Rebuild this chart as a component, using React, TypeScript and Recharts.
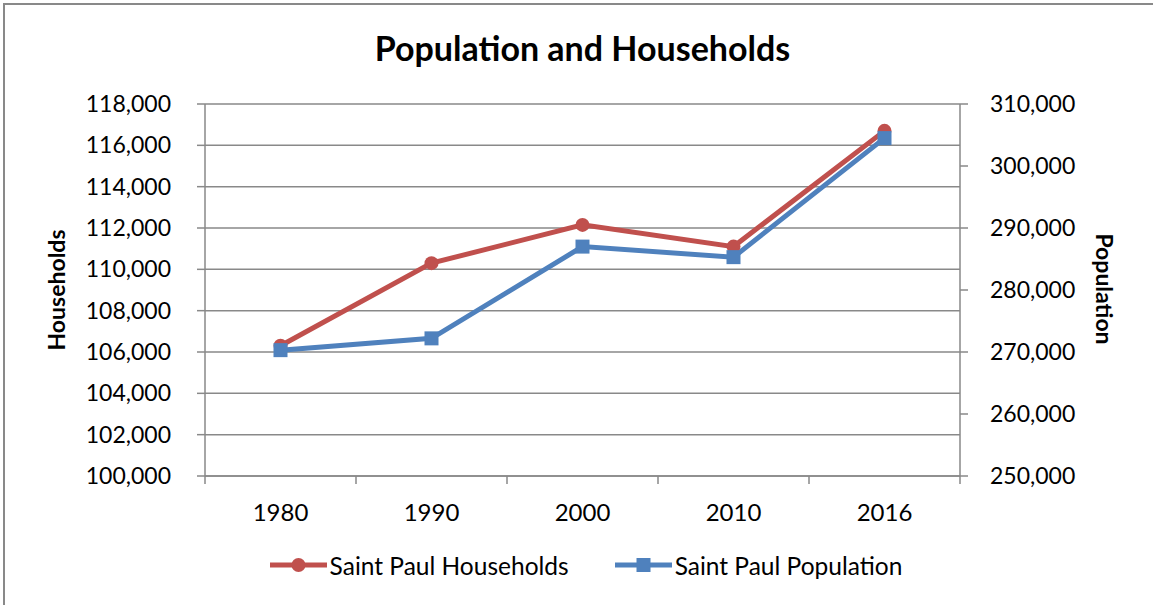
import React from 'react';
import { LineChart, Line, XAxis, YAxis, CartesianGrid, Legend } from 'recharts';

// Saint Paul census figures
const years = ['1980', '1990', '2000', '2010', '2016'];
const households = [106300, 110300, 112150, 111100, 116700];
const population = [270300, 272200, 287000, 285300, 304500];

const householdTicks = [100000, 102000, 104000, 106000, 108000, 110000, 112000, 114000, 116000, 118000];
const populationTicks = [250000, 260000, 270000, 280000, 290000, 300000, 310000];
// half-steps mark the category boundaries, whole steps carry the year labels
const xTicks = [-0.5, 0, 0.5, 1, 1.5, 2, 2.5, 3, 3.5, 4, 4.5];

const RED = '#C0504D';
const BLUE = '#4F81BD';
const GRID = '#898989';
const FONT = 'Lato, "Open Sans", sans-serif';

const data = years.map((year, i) => ({
  idx: i,
  year,
  households: households[i],
  population: population[i],
}));

const fmt = (v: number) => v.toLocaleString('en-US');

const XTick = (props: any) => {
  const { x, y, payload } = props;
  const v = payload.value as number;
  if (!Number.isInteger(v)) {
    return <line x1={x} x2={x} y1={y} y2={y + 8} stroke={GRID} strokeWidth={1.5} />;
  }
  return (
    <text x={x} y={y + 35} textAnchor="middle" dominantBaseline="central" fontSize={24} fontFamily={FONT} fill="#000">
      {years[v]}
    </text>
  );
};

const SquareDot = (props: any) => {
  const { cx, cy, index } = props;
  if (cx == null || cy == null) return null;
  return <rect key={`sq-${index}`} x={cx - 7} y={cy - 7} width={14} height={14} fill={BLUE} />;
};

const LegendIcon = ({ color, square }: { color: string; square: boolean }) => (
  <svg width={57} height={20} style={{ display: 'block' }}>
    <line x1={0} x2={57} y1={10} y2={10} stroke={color} strokeWidth={5} />
    {square ? <rect x={21.5} y={3} width={14} height={14} fill={color} /> : <circle cx={28.5} cy={10} r={7} fill={color} />}
  </svg>
);

const LegendContent = () => (
  <div
    style={{
      display: 'flex',
      justifyContent: 'center',
      alignItems: 'center',
      fontFamily: FONT,
      fontSize: 24.5,
      color: '#000',
      height: 28,
    }}
  >
    <LegendIcon color={RED} square={false} />
    <span style={{ marginLeft: 3 }}>Saint Paul Households</span>
    <span style={{ display: 'inline-block', width: 46 }} />
    <LegendIcon color={BLUE} square={true} />
    <span style={{ marginLeft: 3 }}>Saint Paul Population</span>
  </div>
);

const tickStyle = { fontSize: 23, fontFamily: FONT, fill: '#000' };

export default function App() {
  return (
    <div
      style={{
        position: 'absolute',
        left: 0,
        top: 0,
        width: 1153,
        height: 605,
        overflow: 'hidden',
        background: '#fff',
      }}
    >
      <div
        style={{
          position: 'absolute',
          left: 3,
          top: 3,
          width: 1200,
          height: 700,
          borderTop: `2px solid ${GRID}`,
          borderLeft: `2px solid ${GRID}`,
        }}
      />
      <LineChart width={1153} height={605} data={data} margin={{ top: 104, right: 0, bottom: 0, left: 0 }}>
        <CartesianGrid yAxisId="left" vertical={false} stroke={GRID} strokeWidth={1.5} />
        <XAxis
          type="number"
          dataKey="idx"
          domain={[-0.5, 4.5]}
          ticks={xTicks}
          interval={0}
          tick={<XTick />}
          tickLine={false}
          tickSize={0}
          tickMargin={0}
          axisLine={{ stroke: GRID, strokeWidth: 1.5 }}
          height={129}
        />
        <YAxis
          yAxisId="left"
          domain={[100000, 118000]}
          ticks={householdTicks}
          interval={0}
          tickFormatter={fmt}
          width={205}
          tickSize={8}
          tickMargin={26}
          tick={tickStyle}
          tickLine={{ stroke: GRID, strokeWidth: 1.5 }}
          axisLine={{ stroke: GRID, strokeWidth: 1.5 }}
        />
        <YAxis
          yAxisId="right"
          orientation="right"
          domain={[250000, 310000]}
          ticks={populationTicks}
          interval={0}
          tickFormatter={fmt}
          width={193}
          tickSize={8}
          tickMargin={22}
          tick={tickStyle}
          tickLine={{ stroke: GRID, strokeWidth: 1.5 }}
          axisLine={{ stroke: GRID, strokeWidth: 1.5 }}
        />
        <Line
          yAxisId="left"
          dataKey="households"
          name="Saint Paul Households"
          stroke={RED}
          strokeWidth={5}
          dot={{ r: 7, fill: RED, stroke: RED, strokeWidth: 0 }}
          activeDot={false}
          isAnimationActive={false}
        />
        <Line
          yAxisId="right"
          dataKey="population"
          name="Saint Paul Population"
          stroke={BLUE}
          strokeWidth={5}
          dot={<SquareDot />}
          activeDot={false}
          isAnimationActive={false}
        />
        <Legend
          verticalAlign="middle"
          layout="horizontal"
          content={<LegendContent />}
          wrapperStyle={{ left: 0, top: 551, width: 1172 }}
        />
      </LineChart>
      <div
        style={{
          position: 'absolute',
          left: 0,
          top: 28,
          width: 1165,
          height: 40,
          lineHeight: '40px',
          textAlign: 'center',
          fontFamily: FONT,
          fontWeight: 700,
          fontSize: 34,
          color: '#000',
        }}
      >
        Population and Households
      </div>
      <svg width={1153} height={605} style={{ position: 'absolute', left: 0, top: 0, pointerEvents: 'none' }}>
        <text
          x={56}
          y={290}
          transform="rotate(-90 56 290)"
          textAnchor="middle"
          dominantBaseline="central"
          fontFamily={FONT}
          fontWeight={700}
          fontSize={23}
          fill="#000"
        >
          Households
        </text>
        <text
          x={1105}
          y={289}
          transform="rotate(90 1105 289)"
          textAnchor="middle"
          dominantBaseline="central"
          fontFamily={FONT}
          fontWeight={700}
          fontSize={23}
          fill="#000"
        >
          Population
        </text>
      </svg>
    </div>
  );
}
